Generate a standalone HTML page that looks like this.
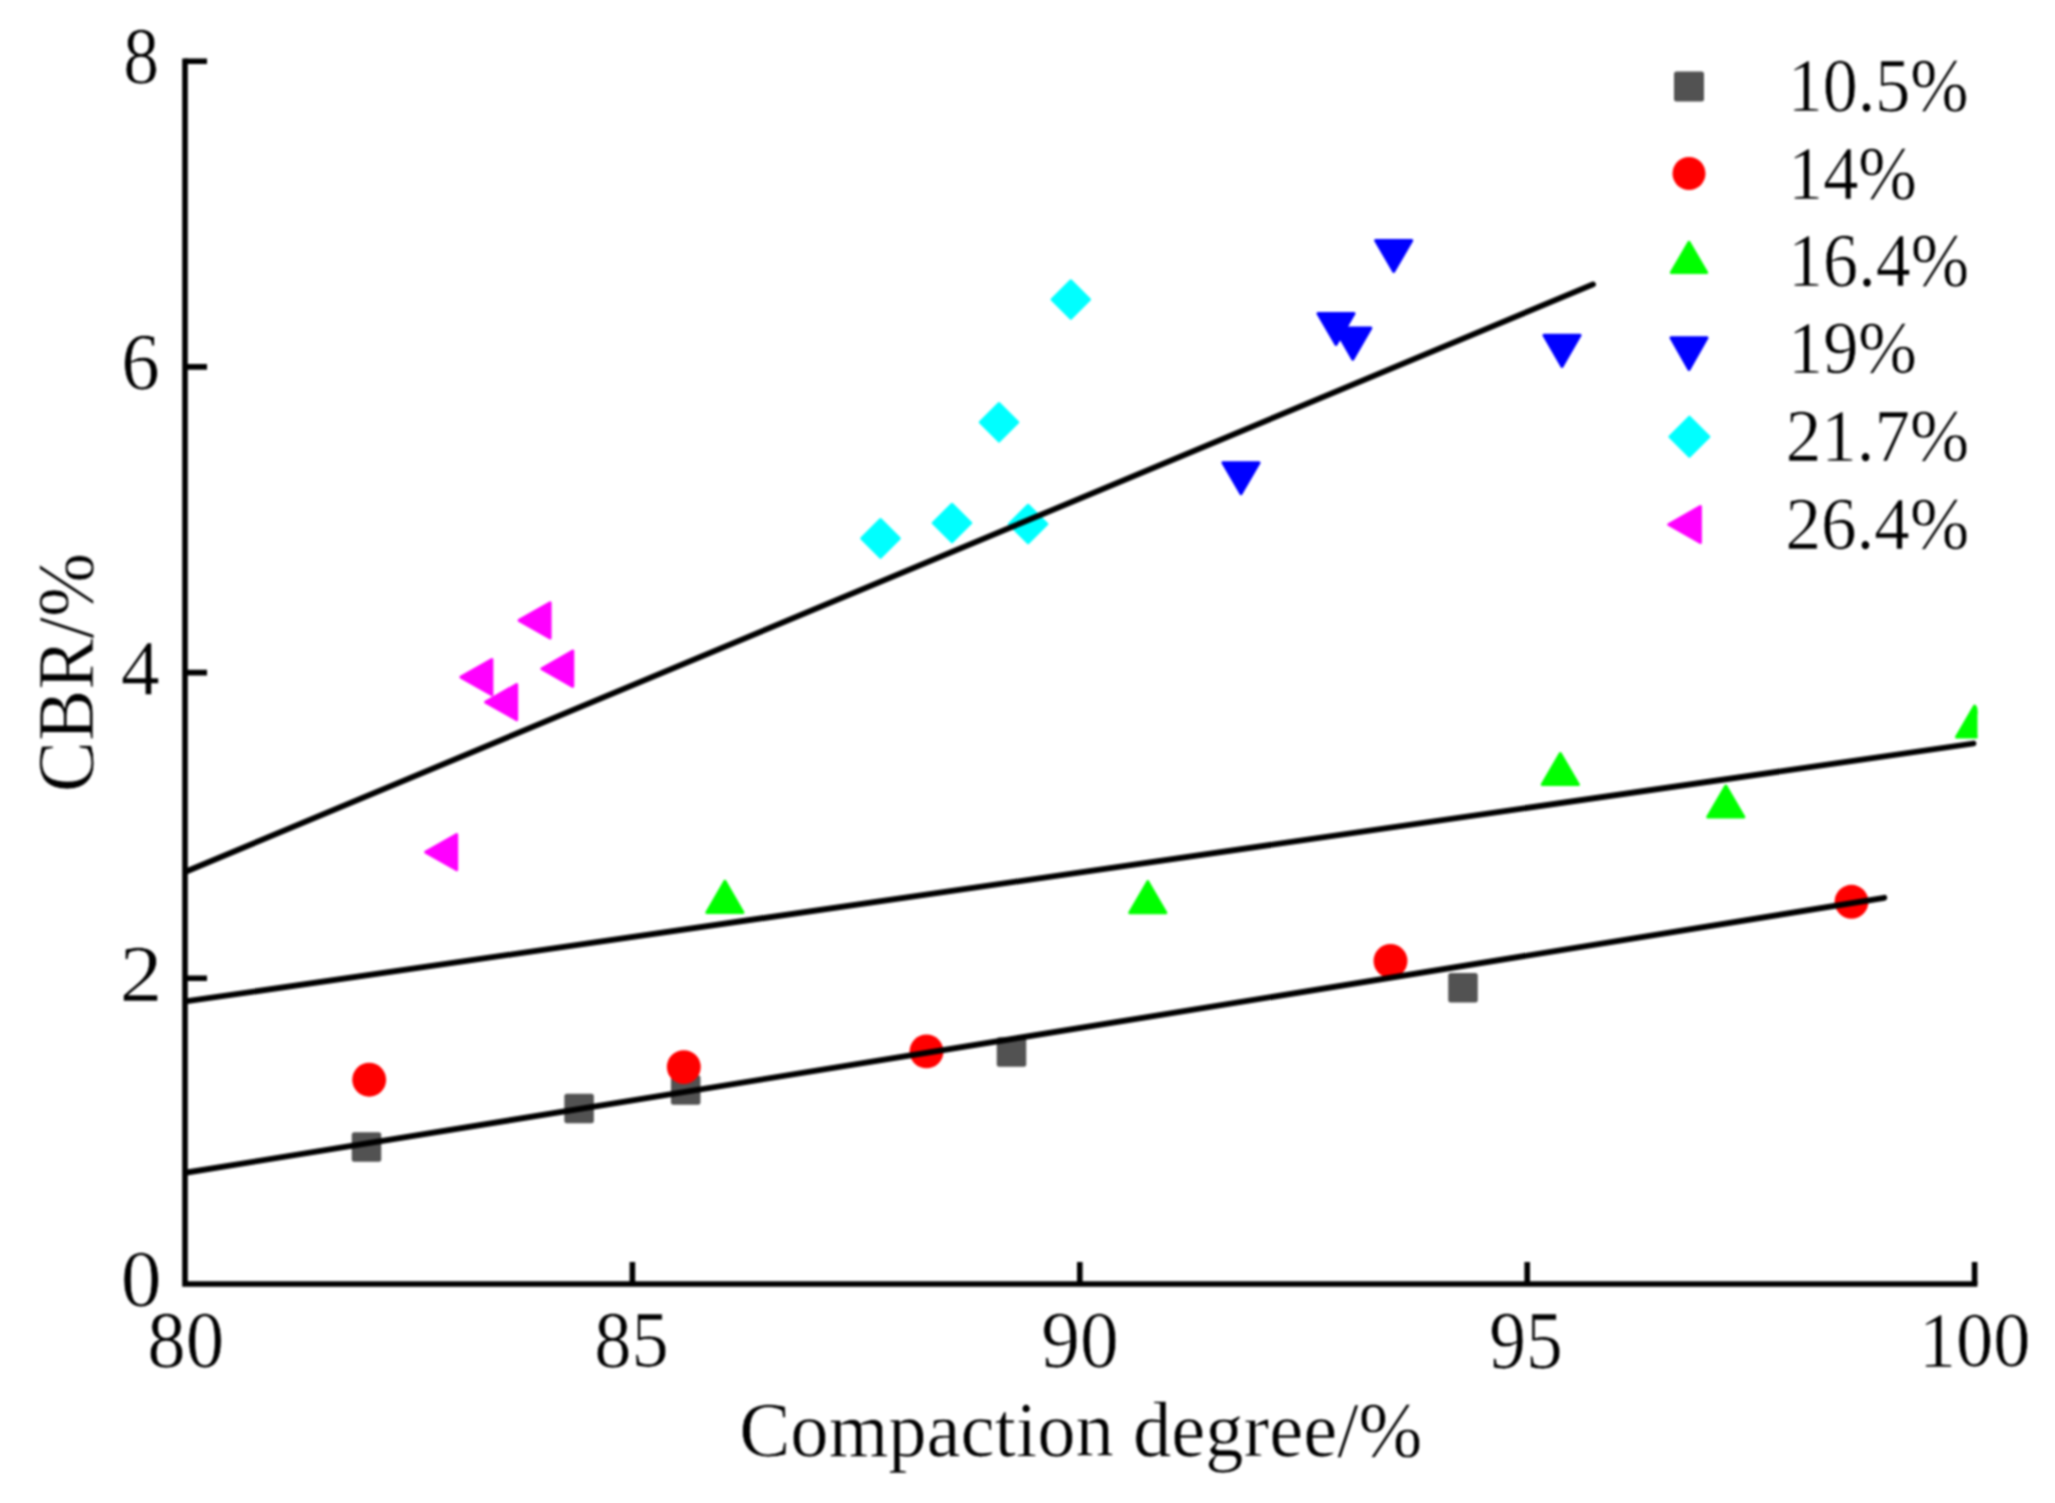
<!DOCTYPE html><html><head><meta charset="utf-8"><title>CBR vs Compaction degree</title><style>html,body{margin:0;padding:0;background:#fff;overflow:hidden}svg{display:block;filter:blur(1px)}text{font-family:'Liberation Serif', 'Times New Roman', serif;fill:#000;stroke:#fff;stroke-width:0.9px}</style></head><body>
<svg width="2055" height="1503" viewBox="0 0 2055 1503">
<rect width="2055" height="1503" fill="#fff"/>
<defs><clipPath id="pa"><rect x="185.0" y="0" width="1792.5" height="1284.0"/></clipPath></defs>
<g clip-path="url(#pa)">
<rect x="351.75" y="1132.25" width="29.50" height="29.50" rx="2.5" fill="#525252"/>
<rect x="564.35" y="1093.85" width="29.50" height="29.50" rx="2.5" fill="#525252"/>
<rect x="670.95" y="1075.25" width="29.50" height="29.50" rx="2.5" fill="#525252"/>
<rect x="996.75" y="1037.25" width="29.50" height="29.50" rx="2.5" fill="#525252"/>
<rect x="1448.25" y="973.05" width="29.50" height="29.50" rx="2.5" fill="#525252"/>
<circle cx="369.20" cy="1079.70" r="16.95" fill="#ff0000"/>
<circle cx="683.80" cy="1067.10" r="16.95" fill="#ff0000"/>
<circle cx="926.50" cy="1051.40" r="16.95" fill="#ff0000"/>
<circle cx="1390.50" cy="961.00" r="16.95" fill="#ff0000"/>
<circle cx="1851.50" cy="901.80" r="16.95" fill="#ff0000"/>
<polygon points="724.90,881.35 742.95,912.45 706.85,912.45" fill="#00ff00" stroke="#00ff00" stroke-width="3" stroke-linejoin="round"/>
<polygon points="1147.80,881.65 1165.85,912.75 1129.75,912.75" fill="#00ff00" stroke="#00ff00" stroke-width="3" stroke-linejoin="round"/>
<polygon points="1560.30,753.45 1578.35,784.55 1542.25,784.55" fill="#00ff00" stroke="#00ff00" stroke-width="3" stroke-linejoin="round"/>
<polygon points="1725.80,785.95 1743.85,817.05 1707.75,817.05" fill="#00ff00" stroke="#00ff00" stroke-width="3" stroke-linejoin="round"/>
<polygon points="1974.60,705.95 1992.65,737.05 1956.55,737.05" fill="#00ff00" stroke="#00ff00" stroke-width="3" stroke-linejoin="round"/>
<polygon points="1375.65,240.45 1411.75,240.45 1393.70,271.55" fill="#0000ff" stroke="#0000ff" stroke-width="3" stroke-linejoin="round"/>
<polygon points="1317.95,313.45 1354.05,313.45 1336.00,344.55" fill="#0000ff" stroke="#0000ff" stroke-width="3" stroke-linejoin="round"/>
<polygon points="1334.75,328.05 1370.85,328.05 1352.80,359.15" fill="#0000ff" stroke="#0000ff" stroke-width="3" stroke-linejoin="round"/>
<polygon points="1543.95,335.35 1580.05,335.35 1562.00,366.45" fill="#0000ff" stroke="#0000ff" stroke-width="3" stroke-linejoin="round"/>
<polygon points="1222.95,462.65 1259.05,462.65 1241.00,493.75" fill="#0000ff" stroke="#0000ff" stroke-width="3" stroke-linejoin="round"/>
<polygon points="1070.80,280.75 1089.55,299.50 1070.80,318.25 1052.05,299.50" fill="#00ffff" stroke="#00ffff" stroke-width="3" stroke-linejoin="round"/>
<polygon points="999.00,403.55 1017.75,422.30 999.00,441.05 980.25,422.30" fill="#00ffff" stroke="#00ffff" stroke-width="3" stroke-linejoin="round"/>
<polygon points="880.50,519.65 899.25,538.40 880.50,557.15 861.75,538.40" fill="#00ffff" stroke="#00ffff" stroke-width="3" stroke-linejoin="round"/>
<polygon points="952.00,504.25 970.75,523.00 952.00,541.75 933.25,523.00" fill="#00ffff" stroke="#00ffff" stroke-width="3" stroke-linejoin="round"/>
<polygon points="1028.10,505.25 1046.85,524.00 1028.10,542.75 1009.35,524.00" fill="#00ffff" stroke="#00ffff" stroke-width="3" stroke-linejoin="round"/>
<polygon points="519.10,620.40 550.10,602.75 550.10,638.05" fill="#ff00ff" stroke="#ff00ff" stroke-width="3" stroke-linejoin="round"/>
<polygon points="460.90,677.10 491.90,659.45 491.90,694.75" fill="#ff00ff" stroke="#ff00ff" stroke-width="3" stroke-linejoin="round"/>
<polygon points="485.70,702.10 516.70,684.45 516.70,719.75" fill="#ff00ff" stroke="#ff00ff" stroke-width="3" stroke-linejoin="round"/>
<polygon points="541.80,668.70 572.80,651.05 572.80,686.35" fill="#ff00ff" stroke="#ff00ff" stroke-width="3" stroke-linejoin="round"/>
<polygon points="425.70,852.10 456.70,834.45 456.70,869.75" fill="#ff00ff" stroke="#ff00ff" stroke-width="3" stroke-linejoin="round"/>
<line x1="185.0" y1="872.0" x2="1593.0" y2="284.4" stroke="#000" stroke-width="5.8" stroke-linecap="round"/>
<line x1="185.0" y1="1001.5" x2="1973.5" y2="743.5" stroke="#000" stroke-width="5.8" stroke-linecap="round"/>
<line x1="185.0" y1="1172.8" x2="1884.3" y2="897.8" stroke="#000" stroke-width="5.8" stroke-linecap="round"/>
</g>
<path d="M185.0,58.4V1284.0H1977.4" fill="none" stroke="#000" stroke-width="5.6" stroke-linejoin="miter" stroke-linecap="butt"/>
<path d="M185.0,978.3H207.0M185.0,672.6H207.0M185.0,366.9H207.0M185.0,61.2H207.0M632.4,1284.0V1262.0M1079.8,1284.0V1262.0M1527.2,1284.0V1262.0M1974.6,1284.0V1262.0" fill="none" stroke="#000" stroke-width="5.6" stroke-linecap="butt"/>
<g>
<text transform="matrix(0.71667 0 0 0.80149 123.33 83.30)" font-size="100">8</text>
<text transform="matrix(0.76977 0 0 0.81343 121.32 389.37)" font-size="100">6</text>
<text transform="matrix(0.78261 0 0 0.78923 120.63 694.10)" font-size="100">4</text>
<text transform="matrix(0.86000 0 0 0.80615 119.56 1000.90)" font-size="100">2</text>
<text transform="matrix(0.81667 0 0 0.79403 120.73 1306.21)" font-size="100">0</text>
<text transform="matrix(0.76957 0 0 0.80299 147.32 1366.79)" font-size="100">80</text>
<text transform="matrix(0.74565 0 0 0.80448 594.22 1366.79)" font-size="100">85</text>
<text transform="matrix(0.77527 0 0 0.79851 1041.27 1366.80)" font-size="100">90</text>
<text transform="matrix(0.73548 0 0 0.81515 1489.19 1367.88)" font-size="100">95</text>
<text transform="matrix(0.74380 0 0 0.77647 1918.91 1366.35)" font-size="100">100</text>
<text transform="matrix(0.76640 0 0 0.78000 739.23 1455.82)" font-size="100">Compaction degree/%</text>
<text transform="matrix(0 -0.76908 0.80448 0 92.89 792.28)" font-size="100">CBR/%</text>
<text transform="matrix(0.70041 0 0 0.75882 1787.80 111.28)" font-size="100">10.5%</text>
<text transform="matrix(0.70292 0 0 0.75147 1788.07 198.60)" font-size="100">14%</text>
<text transform="matrix(0.70081 0 0 0.75147 1788.09 285.90)" font-size="100">16.4%</text>
<text transform="matrix(0.70292 0 0 0.73529 1788.07 373.43)" font-size="100">19%</text>
<text transform="matrix(0.71036 0 0 0.73529 1785.66 460.73)" font-size="100">21.7%</text>
<text transform="matrix(0.71155 0 0 0.74776 1785.45 548.60)" font-size="100">26.4%</text>
</g>
<rect x="1674.00" y="71.60" width="30.00" height="30.00" rx="2.5" fill="#525252"/>
<circle cx="1689.00" cy="173.50" r="16.50" fill="#ff0000"/>
<polygon points="1689.00,242.30 1706.65,272.50 1671.35,272.50" fill="#00ff00" stroke="#00ff00" stroke-width="3" stroke-linejoin="round"/>
<polygon points="1671.00,337.80 1707.00,337.80 1689.00,369.40" fill="#0000ff" stroke="#0000ff" stroke-width="3" stroke-linejoin="round"/>
<polygon points="1689.40,417.20 1708.90,436.70 1689.40,456.20 1669.90,436.70" fill="#00ffff" stroke="#00ffff" stroke-width="3" stroke-linejoin="round"/>
<polygon points="1668.80,524.50 1700.40,506.50 1700.40,542.50" fill="#ff00ff" stroke="#ff00ff" stroke-width="3" stroke-linejoin="round"/>
</svg></body></html>
